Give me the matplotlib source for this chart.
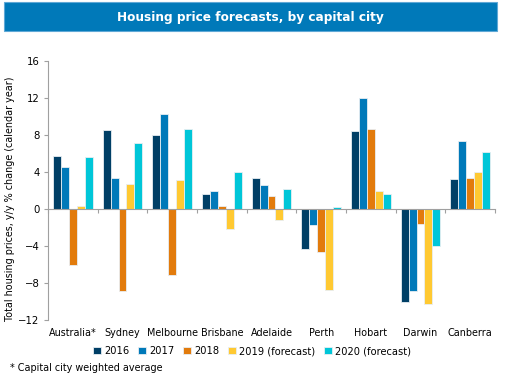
import numpy as np
import matplotlib.pyplot as plt
from matplotlib.patches import Rectangle

# --- data ---
cities = ["Australia*", "Sydney", "Melbourne", "Brisbane", "Adelaide",
          "Perth", "Hobart", "Darwin", "Canberra"]
series_names = ["2016", "2017", "2018", "2019 (forecast)", "2020 (forecast)"]
v2016 = [5.7, 8.5, 8.0, 1.6, 3.4, -4.3, 8.4, -10.1, 3.2]
v2017 = [4.5, 3.4, 10.3, 1.9, 2.6, -1.7, 12.0, -8.9, 7.4]
v2018 = [-6.1, -8.9, -7.1, 0.3, 1.4, -4.7, 8.7, -1.6, 3.4]
v2019 = [0.3, 2.7, 3.1, -2.2, -1.2, -8.8, 2.0, -10.3, 4.0]
v2020 = [5.6, 7.1, 8.7, 4.0, 2.2, 0.2, 1.6, -4.0, 6.2]
yticks = [-12, -8, -4, 0, 4, 8, 12, 16]

colors = ["#003F66", "#0079B9", "#E27B0C", "#FFC932", "#00C6D8"]
series = [v2016, v2017, v2018, v2019, v2020]

plt.rcParams['font.family'] = ['DejaVu Sans']
FS = 6.9

fig = plt.figure(figsize=(5.12, 3.85), dpi=100)
ax = fig.add_axes([48 / 512, 1 - 320 / 385, 447 / 512, 259 / 385])

# title banner
fig.patches.append(Rectangle((4 / 512, 1 - 31 / 385), 493 / 512, 29 / 385,
                             transform=fig.transFigure, facecolor="#0079B9",
                             edgecolor="#5FA8D6", lw=0.8, zorder=0))
fig.text(250 / 512, 1 - 17 / 385, "Housing price forecasts, by capital city",
         ha='center', va='center', color='white', fontsize=8.7,
         fontweight='bold')

x = np.arange(len(cities))
w = 0.16
for k, (vals, name, c) in enumerate(zip(series, series_names, colors)):
    ax.bar(x + (k - 2) * w, vals, width=w, color=c, edgecolor='#E8EEF2',
           linewidth=0.6, label=name, zorder=2)

ax.set_xlim(-0.5, len(cities) - 0.5)
ax.set_ylim(-12, 16)
ax.set_yticks(yticks)
ax.tick_params(axis='y', labelsize=FS + 0.4, length=3, color='#A0A0A0', pad=3)

for s in ['top', 'right']:
    ax.spines[s].set_visible(False)
ax.spines['left'].set_color('#A0A0A0')
ax.spines['bottom'].set_color('#A0A0A0')
ax.spines['bottom'].set_position(('data', 0))
ax.spines['bottom'].set_zorder(3)
ax.set_xticks(np.arange(len(cities) + 1) - 0.5)
ax.set_xticklabels([])
ax.tick_params(axis='x', length=3, color='#A0A0A0')

for i, name in enumerate(cities):
    ax.annotate(name, xy=(i, -12), xytext=(0, -6), textcoords='offset points',
                ha='center', va='top', fontsize=FS)

ax.set_ylabel("Total housing prices, y/y % change (calendar year)",
              fontsize=FS)
ax.yaxis.set_label_coords(-33 / 447, 0.467)

fig.legend(loc='center', bbox_to_anchor=(252 / 512, 1 - 351 / 385), ncol=5,
           frameon=False, fontsize=FS + 0.2, handlelength=0.8, handleheight=0.8,
           handletextpad=0.3, columnspacing=0.9)

fig.text(10 / 512, 1 - 368 / 385, "* Capital city weighted average",
         ha='left', va='center', fontsize=FS)

fig.savefig("out.png", dpi=100)
